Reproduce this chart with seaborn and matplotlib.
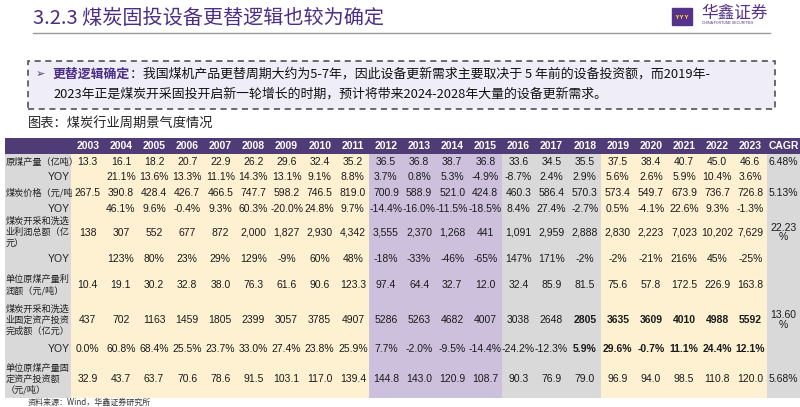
import numpy as np
import pandas as pd
import matplotlib
matplotlib.use("Agg")
import matplotlib.pyplot as plt
from matplotlib.colors import ListedColormap
from matplotlib.patches import Rectangle
import seaborn as sns

years = [str(y) for y in range(2003, 2024)]

production = [13.3, 16.1, 18.2, 20.7, 22.9, 26.2, 29.6, 32.4, 35.2, 36.5, 36.8,
              38.7, 36.8, 33.6, 34.5, 35.5, 37.5, 38.4, 40.7, 45.0, 46.6]
production_yoy = [None, 21.1, 13.6, 13.3, 11.1, 14.3, 13.1, 9.1, 8.8, 3.7, 0.8,
                  5.3, -4.9, -8.7, 2.4, 2.9, 5.6, 2.6, 5.9, 10.4, 3.6]
price = [267.5, 390.8, 428.4, 426.7, 466.5, 747.7, 598.2, 746.5, 819.0, 700.9, 588.9,
         521.0, 424.8, 460.3, 586.4, 570.3, 573.4, 549.7, 673.9, 736.7, 726.8]
price_yoy = [None, 46.1, 9.6, -0.4, 9.3, 60.3, -20.0, 24.8, 9.7, -14.4, -16.0,
             -11.5, -18.5, 8.4, 27.4, -2.7, 0.5, -4.1, 22.6, 9.3, -1.3]
profit = [138, 307, 552, 677, 872, 2000, 1827, 2930, 4342, 3555, 2370,
          1268, 441, 1091, 2959, 2888, 2830, 2223, 7023, 10202, 7629]
profit_yoy = [None, 123, 80, 23, 29, 129, -9, 60, 48, -18, -33,
              -46, -65, 147, 171, -2, -2, -21, 216, 45, -25]
unit_profit = [10.4, 19.1, 30.2, 32.8, 38.0, 76.3, 61.6, 90.6, 123.3, 97.4, 64.4,
               32.7, 12.0, 32.4, 85.9, 81.5, 75.6, 57.8, 172.5, 226.9, 163.8]
fixed_inv = [437, 702, 1163, 1459, 1805, 2399, 3057, 3785, 4907, 5286, 5263,
             4682, 4007, 3038, 2648, 2805, 3635, 3609, 4010, 4988, 5592]
fixed_inv_yoy = [0.0, 60.8, 68.4, 25.5, 23.7, 33.0, 27.4, 23.8, 25.9, 7.7, -2.0,
                 -9.5, -14.4, -24.2, -12.3, 5.9, 29.6, -0.7, 11.1, 24.4, 12.1]
unit_fixed_inv = [32.9, 43.7, 63.7, 70.6, 78.6, 91.5, 103.1, 117.0, 139.4, 144.8, 143.0,
                  120.9, 108.7, 90.3, 76.9, 79.0, 96.9, 94.0, 98.5, 110.8, 120.0]
cagr = ["6.48%", "", "5.13%", "", "22.23\n%", "", "", "13.60\n%", "", "5.68%"]

row_labels = ["原煤产量（亿吨）", "YOY", "煤炭价格（元/吨", "YOY",
              "煤炭开采和洗选\n业利润总额（亿\n元）", "YOY",
              "单位原煤产量利\n润额（元/吨）",
              "煤炭开采和洗选\n业固定资产投资\n完成额（亿元）", "YOY",
              "单位原煤产量固\n定资产投资额\n（元/吨）"]

# column groups: 0 header, 1 gray, 2 yellow, 3 lavender
col_groups = [1, 1] + [2] * 9 + [3] * 4 + [1] * 3 + [2] * 5 + [1]
colors = ["#4f3b76", "#d9d9d9", "#fdf1d2", "#cdc0dd"]

# row heights in pixels (header + 10 rows)
row_heights = [16, 16, 15, 16, 15, 33, 19, 34, 36, 22, 38]


def fmt_num(v, kind):
    if v is None:
        return ""
    if kind == "f1":
        return f"{v:.1f}"
    if kind == "pct1":
        return f"{v:.1f}%"
    if kind == "pct0":
        return f"{v:d}%"
    if kind == "comma":
        return f"{v:,d}"
    return f"{v:d}"


rows = [
    (production, "f1"), (production_yoy, "pct1"),
    (price, "f1"), (price_yoy, "pct1"),
    (profit, "comma"), (profit_yoy, "pct0"),
    (unit_profit, "f1"),
    (fixed_inv, "int"), (fixed_inv_yoy, "pct1"),
    (unit_fixed_inv, "f1"),
]

# ---- band matrix for the heatmap (one row per pixel line) ----
band_rows = []
for i, h in enumerate(row_heights):
    line = [0] * len(col_groups) if i == 0 else col_groups
    band_rows += [line] * h
bands = pd.DataFrame(band_rows)

W, H = 800, 407
fig = plt.figure(figsize=(W / 100, H / 100), dpi=100)
fig.patch.set_facecolor("white")

tbl_left, tbl_top, tbl_right, tbl_bottom = 5, 138, 800, 398
ax = fig.add_axes([tbl_left / W, 1 - tbl_bottom / H,
                   (tbl_right - tbl_left) / W, (tbl_bottom - tbl_top) / H])
sns.heatmap(bands, cmap=ListedColormap(colors), vmin=-0.5, vmax=3.5, cbar=False,
            xticklabels=False, yticklabels=False, ax=ax)
ax.set_xlabel("")
ax.set_ylabel("")

num_font = ["Liberation Sans", "Noto Sans CJK SC"]
cjk_font = ["Noto Sans CJK SC", "DejaVu Sans"]

edges = np.cumsum([0] + row_heights)
centers = (edges[:-1] + edges[1:]) / 2

# header
for j, yr in enumerate(years + ["CAGR"]):
    ax.text(2 + j + 0.5, centers[0], yr, ha="center", va="center", color="white",
            fontsize=7.5, fontweight="bold", family=num_font)

# body
for i, ((vals, kind), label) in enumerate(zip(rows, row_labels)):
    yc = centers[i + 1]
    if label == "YOY":
        ax.text(1.97, yc, label, ha="right", va="center", fontsize=7.5,
                color="#222222", family=num_font)
    else:
        ax.text(0.02, yc, label, ha="left", va="center", fontsize=6.6,
                color="#222222", family=cjk_font, linespacing=1.25)
    for j, v in enumerate(vals):
        bold = i in (7, 8) and j >= 15
        ax.text(2 + j + 0.5, yc, fmt_num(v, kind), ha="center", va="center",
                fontsize=7.5, color="#1a1a1a", family=num_font,
                fontweight="bold" if bold else "normal")
    if cagr[i]:
        ax.text(23.5, yc, cagr[i], ha="center", va="center", fontsize=7.5,
                color="#1a1a1a", family=num_font, linespacing=0.95)

# ---- page decorations ----
def fx(x):
    return x / W


def fy(y):
    return 1 - y / H


fig.text(fx(33), fy(18), "3.2.3 煤炭固投设备更替逻辑也较为确定", fontsize=14.5,
         color="#4b2f86", family=cjk_font, fontweight="medium", ha="left", va="center")
fig.add_artist(plt.Line2D([fx(33), fx(770)], [fy(33), fy(33)], color="#9a9a9a", lw=1))

# logo
fig.add_artist(Rectangle((fx(672), fy(25)), fx(20), 17 / H, color="#55338a",
                         transform=fig.transFigure))
fig.text(fx(682), fy(17), "ʏʏʏ", fontsize=5, color="#f2c037", ha="center",
         va="center", family="DejaVu Sans", fontweight="bold")
fig.text(fx(701), fy(13), "华鑫证券", fontsize=12, color="#55338a",
         family=cjk_font, ha="left", va="center")
fig.text(fx(702), fy(23.5), "CHINA FORTUNE SECURITIES", fontsize=2.6,
         color="#55338a", family=num_font, ha="left", va="center")

# dashed note box
fig.add_artist(Rectangle((fx(28), fy(109)), fx(747), 48 / H, transform=fig.transFigure,
                         facecolor="#efeef8", edgecolor="#444444", lw=1.1,
                         linestyle=(0, (4, 3))))
fig.text(fx(36), fy(74), "➢", fontsize=8, color="#4b2f86", family=cjk_font,
         ha="left", va="center")
t1 = fig.text(fx(53), fy(74), "更替逻辑确定", fontsize=9.3, color="#4b2f86",
              family=cjk_font, fontweight="bold", ha="left", va="center")
fig.canvas.draw()
bb = t1.get_window_extent()
fig.text(bb.x1 / W, fy(74),
         "：我国煤机产品更替周期大约为5-7年，因此设备更新需求主要取决于 5 年前的设备投资额，而2019年-",
         fontsize=9.3, color="#111111", family=cjk_font, ha="left", va="center")
fig.text(fx(53), fy(94),
         "2023年正是煤炭开采固投开启新一轮增长的时期，预计将带来2024-2028年大量的设备更新需求。",
         fontsize=9.3, color="#111111", family=cjk_font, ha="left", va="center")

fig.text(fx(28), fy(124), "图表：煤炭行业周期景气度情况", fontsize=9.5,
         color="#222222", family=cjk_font, ha="left", va="center")
fig.text(fx(28), fy(406.5), "资料来源：Wind，华鑫证券研究所", fontsize=5.8,
         color="#333333", family=cjk_font, ha="left", va="bottom")

fig.savefig("out.png", dpi=100)
